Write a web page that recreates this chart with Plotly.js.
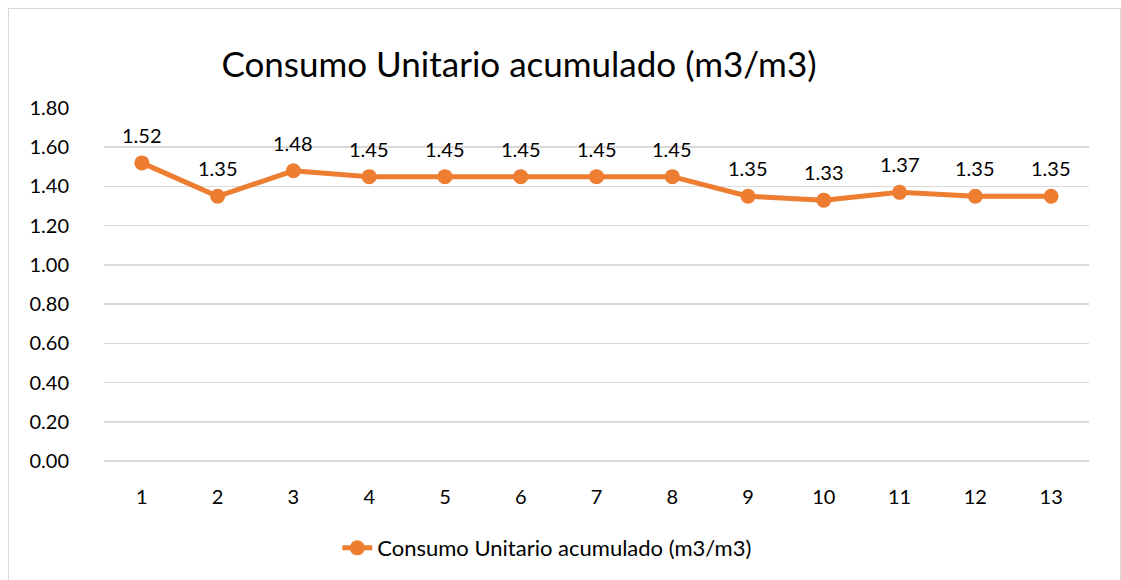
<!DOCTYPE html>
<html><head><meta charset="utf-8">
<script src="https://cdn.plot.ly/plotly-3.0.1.min.js"></script>
<style>
html,body{margin:0;padding:0;background:#fff;}
#wrap{position:relative;width:1121px;height:580px;overflow:hidden;}
#chart{position:absolute;left:0;top:0;width:1121px;height:580px;}
#frame{position:absolute;left:8px;top:8px;width:1111px;height:600px;border:1.5px solid #d9d9d9;pointer-events:none;}
</style></head>
<body><div id="wrap"><div id="chart"></div><div id="frame"></div></div>
<script>
const categories = ["1","2","3","4","5","6","7","8","9","10","11","12","13"];
const values = [1.52,1.35,1.48,1.45,1.45,1.45,1.45,1.45,1.35,1.33,1.37,1.35,1.35];
const seriesName = "Consumo Unitario acumulado (m3/m3)";
const titleText = "Consumo Unitario acumulado (m3/m3)";
const yTicks = [0,0.2,0.4,0.6,0.8,1.0,1.2,1.4,1.6,1.8];

const font = "Lato, 'Open Sans', sans-serif";
const trace = {
  x: categories, y: values, type: 'scatter', mode: 'lines+markers',
  name: seriesName,
  line: {color: '#ED7D31', width: 5},
  marker: {color: '#ED7D31', size: 15},
  cliponaxis: false
};
const annotations = categories.map((c, i) => ({
  x: i, y: values[i], xref: 'x', yref: 'y', text: values[i].toFixed(2),
  showarrow: false, yshift: 28, font: {family: font, size: 20, color: '#000'}
}));
const layout = {
  width: 1121, height: 580,
  margin: {l: 104, r: 32, t: 108, b: 118},
  paper_bgcolor: '#fff', plot_bgcolor: '#fff',
  font: {family: font, color: '#000'},
  title: {text: titleText, x: 0.463, xanchor: 'center', y: 0.888, yanchor: 'middle',
          font: {family: font, size: 35, color: '#000'}},
  xaxis: {type: 'category', range: [-0.5, 12.5], showgrid: false, zeroline: false, showline: false,
          ticks: 'outside', ticklen: 18, tickcolor: 'rgba(0,0,0,0)',
          tickfont: {family: font, size: 20, color: '#000'}},
  yaxis: {range: [0, 1.8], tickvals: yTicks, tickformat: '.2f',
          showgrid: true, gridcolor: '#d9d9d9', gridwidth: 1.5,
          zeroline: true, zerolinecolor: '#d9d9d9', zerolinewidth: 1.5,
          showline: false, ticks: 'outside', ticklen: 30, tickcolor: 'rgba(0,0,0,0)',
          tickfont: {family: font, size: 20, color: '#000'}},
  annotations: annotations,
  showlegend: true,
  legend: {orientation: 'h', x: 0.45, xanchor: 'center', y: -0.243, yanchor: 'middle',
           font: {family: font, size: 22, color: '#000'}}
};
Plotly.newPlot('chart', [trace], layout, {displayModeBar: false, staticPlot: true});
</script></body></html>
